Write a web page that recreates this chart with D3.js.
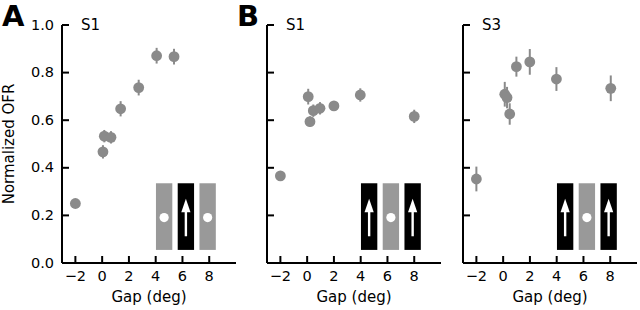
<!DOCTYPE html>
<html lang="en">
<head>
  <meta charset="utf-8">
  <script src="https://d3js.org/d3.v7.min.js"></script>
  <style>
    body { margin: 0; background: #fff; }
    svg text { font-family: "DejaVu Sans", sans-serif; fill: #000; }
    .axis path, .axis line { stroke: #000; stroke-width: 2px; }
    .axis text { font-size: 14.5px; font-family: "DejaVu Sans", sans-serif; }
  </style>
</head>
<body>
  <svg width="640" height="310" id="svg-container"></svg>
  <script>
    // DATA
    const gapTicks = [-2, 0, 2, 4, 6, 8];
    const ofrTicks = [0, 0.2, 0.4, 0.6, 0.8, 1.0];

    // panel A, S1
    const aGap = [-2, 0.06, 0.16, 0.66, 1.38, 2.73, 4.07, 5.37];
    const aOFR = [0.250, 0.467, 0.533, 0.528, 0.648, 0.737, 0.871, 0.867];
    const aErr = [0.018, 0.028, 0.026, 0.026, 0.032, 0.033, 0.033, 0.033];

    // panel B, S1
    const b1Gap = [-2, 0.08, 0.21, 0.46, 0.96, 2.0, 3.97, 8.0];
    const b1OFR = [0.366, 0.699, 0.594, 0.640, 0.650, 0.660, 0.706, 0.616];
    const b1Err = [0.012, 0.033, 0.022, 0.026, 0.026, 0.02, 0.028, 0.028];

    // panel B, S3
    const b3Gap = [-2, 0.12, 0.29, 0.49, 0.99, 1.99, 3.98, 8.04];
    const b3OFR = [0.353, 0.709, 0.695, 0.626, 0.825, 0.845, 0.773, 0.734];
    const b3Err = [0.052, 0.052, 0.045, 0.045, 0.042, 0.054, 0.05, 0.054];
    //END DATA

    let svg = d3.select("svg#svg-container");

    const plotTop = 25, plotBottom = 263, plotW = 174;
    const markerColor = "#8a8a8a";
    const insetGray = "#999999";

    let panels = [
      {left: 62,  title: "S1", letter: "A", yLabels: true,  gap: aGap,  ofr: aOFR,  err: aErr,  inset: ["dot", "arrow", "dot"]},
      {left: 267, title: "S1", letter: "B", yLabels: false, gap: b1Gap, ofr: b1OFR, err: b1Err, inset: ["arrow", "dot", "arrow"]},
      {left: 463, title: "S3", letter: null, yLabels: false, gap: b3Gap, ofr: b3OFR, err: b3Err, inset: ["arrow", "dot", "arrow"]}
    ];

    panels.forEach(p => drawPanel(p));

    function drawPanel(p) {
      let x = d3.scaleLinear().domain([-3, 10]).range([p.left, p.left + plotW]);
      let y = d3.scaleLinear().domain([0, 1]).range([plotBottom, plotTop]);
      let g = svg.append("g");

      // inset sketch (axes fraction coords)
      let fx = d3.scaleLinear().domain([0, 1]).range([p.left, p.left + plotW]);
      const barW = 0.094, step = 0.125, x0 = 0.54;
      let rTop = y(0.335), rBot = y(0.055);
      p.inset.forEach((kind, i) => {
        let bx = fx(x0 + i * step), bw = fx(barW) - fx(0);
        let cx = bx + bw / 2;
        g.append("rect")
          .attr("x", bx).attr("y", rTop)
          .attr("width", bw).attr("height", rBot - rTop)
          .attr("fill", kind == "arrow" ? "#000" : insetGray);
        if (kind == "dot") {
          g.append("circle").attr("cx", cx).attr("cy", (rTop + rBot) / 2 + 1)
            .attr("r", 4.6).attr("fill", "#fff");
        } else {
          let headTop = rTop + 15.5, headBase = rTop + 29, shaftEnd = rTop + 53;
          g.append("line")
            .attr("x1", cx).attr("x2", cx)
            .attr("y1", headBase - 1).attr("y2", shaftEnd)
            .attr("stroke", "#fff").attr("stroke-width", 2.4);
          g.append("path")
            .attr("d", `M${cx},${headTop} L${cx + 4.6},${headBase} L${cx - 4.6},${headBase} Z`)
            .attr("fill", "#fff");
        }
      });

      // error bars + markers
      let pts = p.gap.map((d, i) => ({gap: d, ofr: p.ofr[i], err: p.err[i]}));
      g.selectAll("line.err").data(pts).enter()
        .append("line").attr("class", "err")
        .attr("x1", d => x(d.gap)).attr("x2", d => x(d.gap))
        .attr("y1", d => y(d.ofr - d.err)).attr("y2", d => y(d.ofr + d.err))
        .attr("stroke", markerColor).attr("stroke-width", 2);
      g.selectAll("circle.pt").data(pts).enter()
        .append("circle").attr("class", "pt")
        .attr("cx", d => x(d.gap)).attr("cy", d => y(d.ofr))
        .attr("r", 5.4).attr("fill", markerColor);

      // axes
      let xAxis = d3.axisBottom(x).tickValues(gapTicks)
        .tickSize(-7).tickSizeOuter(0).tickPadding(8).offset(0)
        .tickFormat(d => d < 0 ? "\u2212" + Math.abs(d) : d);
      g.append("g").attr("class", "axis")
        .attr("transform", `translate(0,${plotBottom})`)
        .call(xAxis)
        .call(a => a.selectAll("text").attr("fill", "#000"));

      let yAxis = d3.axisLeft(y).tickValues(ofrTicks)
        .tickSize(-7).tickSizeOuter(0).tickPadding(8).offset(0)
        .tickFormat(p.yLabels ? d3.format(".1f") : () => "");
      g.append("g").attr("class", "axis")
        .attr("transform", `translate(${p.left},0)`)
        .call(yAxis)
        .call(a => a.selectAll("text").attr("fill", "#000"));

      g.append("text")
        .attr("x", (p.left + p.left + plotW) / 2).attr("y", 302)
        .attr("text-anchor", "middle").style("font-size", "15px")
        .text("Gap (deg)");

      g.append("text")
        .attr("x", p.left + 19).attr("y", 30)
        .style("font-size", "15px")
        .text(p.title);

      if (p.letter) {
        g.append("text")
          .attr("x", p.left - (p.letter == "A" ? 60 : 30)).attr("y", 26)
          .style("font-size", "29px").style("font-weight", "bold")
          .text(p.letter);
      }
      if (p.yLabels) {
        g.append("text")
          .attr("transform", `translate(14,${(plotTop + plotBottom) / 2}) rotate(-90)`)
          .attr("text-anchor", "middle").style("font-size", "15px")
          .text("Normalized OFR");
      }
    }
  </script>
</body>
</html>
